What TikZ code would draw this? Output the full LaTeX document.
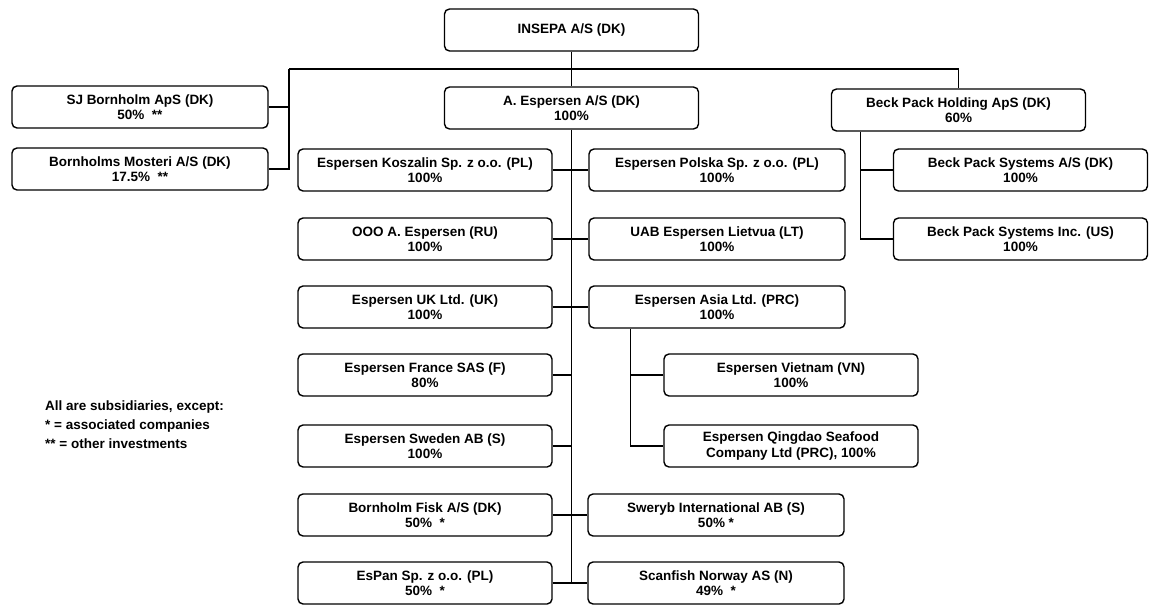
\documentclass[tikz,border=0pt]{standalone}
\usepackage{fontspec}
\setmainfont{Liberation Sans}

\begin{document}
\begin{tikzpicture}[x=1pt,y=-1pt,
  firm/.style={draw, line width=1.4pt, rounded corners=5pt, minimum width=254pt,
    minimum height=42pt, align=center, inner sep=0pt,
    font=\bfseries\fontsize{13.5}{15.5}\selectfont},
  link/.style={line width=1.3pt}]
\useasboundingbox (0,0) rectangle (1151,605);

% Top
\node[firm] (insepa) at (571.5,30) {INSEPA A/S (DK)};

% Level 1
\node[firm, minimum width=256pt] (sjb) at (140,107) {SJ Bornholm ApS (DK)\\50\%\ \ **};
\node[firm, minimum width=256pt] (moster) at (140,169) {Bornholms Mosteri A/S (DK)\\17.5\%\ \ **};
\node[firm] (aesp) at (571.5,108) {A. Espersen A/S (DK)\\100\%};
\node[firm] (beckh) at (958.5,110) {Beck Pack Holding ApS (DK)\\60\%};

% Beck Pack
\node[firm] (becksys) at (1020.5,170) {Beck Pack Systems A/S (DK)\\100\%};
\node[firm] (beckinc) at (1020.5,239) {Beck Pack Systems Inc. (US)\\100\%};

% A. Espersen, left column
\node[firm] (koszalin) at (425,170) {Espersen Koszalin Sp. z o.o. (PL)\\100\%};
\node[firm] (ooo) at (425,239) {OOO A. Espersen (RU)\\100\%};
\node[firm] (uk) at (425,307) {Espersen UK Ltd. (UK)\\100\%};
\node[firm] (france) at (425,375) {Espersen France SAS (F)\\80\%};
\node[firm] (sweden) at (425,446) {Espersen Sweden AB (S)\\100\%};
\node[firm] (fisk) at (425,515) {Bornholm Fisk A/S (DK)\\50\%\ \ *};
\node[firm] (espan) at (425,583) {EsPan Sp. z o.o. (PL)\\50\%\ \ *};

% A. Espersen, right column
\node[firm, minimum width=256pt] (polska) at (717,170) {Espersen Polska Sp. z o.o. (PL)\\100\%};
\node[firm, minimum width=256pt] (uab) at (717,239) {UAB Espersen Lietvua (LT)\\100\%};
\node[firm, minimum width=256pt] (asia) at (717,307) {Espersen Asia Ltd. (PRC)\\100\%};
\node[firm] (vietnam) at (791,375) {Espersen Vietnam (VN)\\100\%};
\node[firm] (qingdao) at (791,446) {Espersen Qingdao Seafood\\Company Ltd (PRC), 100\%};
\node[firm, minimum width=256pt] (sweryb) at (716,515) {Sweryb International AB (S)\\50\%\ *};
\node[firm, minimum width=256pt] (scanfish) at (716,583) {Scanfish Norway AS (N)\\49\%\ \ *};

% Legend
\node[anchor=north west, align=left, inner sep=0pt,
  font=\bfseries\fontsize{13.5}{19}\selectfont] (legend) at (45,401)
  {All are subsidiaries, except:\\* = associated companies\\** = other investments};

% Bus below INSEPA
\coordinate (busl) at (289,69);
\coordinate (busr) at (beckh.north |- busl);
\draw[link] (insepa) -- (aesp);
\draw[link] (busl) -- (busr) -- (beckh.north);
\draw[link] (busl) |- (moster.east);
\draw[link] (sjb.east) -- (sjb.east -| busl);

% Trunk of A. Espersen
\draw[link] (aesp.south) -- (aesp.south |- espan.east);
\draw[link] (koszalin.east) -- (polska.west);
\draw[link] (ooo.east) -- (uab.west);
\draw[link] (uk.east) -- (asia.west);
\draw[link] (france.east) -- (france.east -| aesp.south);
\draw[link] (sweden.east) -- (sweden.east -| aesp.south);
\draw[link] (fisk.east) -- (sweryb.west);
\draw[link] (espan.east) -- (scanfish.west);

% Asia
\coordinate (asiab) at ([xshift=42pt]asia.south west);
\draw[link] (asiab) |- (qingdao.west);
\draw[link] (vietnam.west) -- (vietnam.west -| asiab);

% Beck Pack
\coordinate (beckb) at ([xshift=30pt]beckh.south west);
\draw[link] (beckb) |- (beckinc.west);
\draw[link] (becksys.west) -- (becksys.west -| beckb);
\end{tikzpicture}
\end{document}
